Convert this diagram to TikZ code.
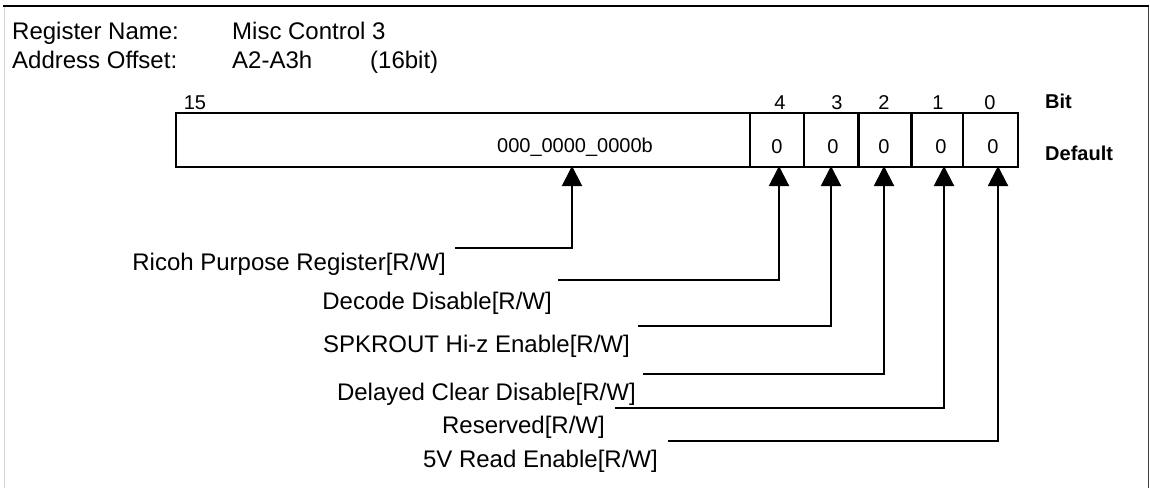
\documentclass[tikz,border=0pt]{standalone}
\usepackage{fontspec}
\setmainfont{Liberation Sans}
\usetikzlibrary{arrows.meta}
\begin{document}
\begin{tikzpicture}[x=1pt,y=-1pt,
  txt/.style={inner sep=0pt, anchor=base west, font=\fontsize{24}{28}\selectfont},
  lbl/.style={inner sep=0pt, anchor=base east, font=\fontsize{24}{28}\selectfont},
  small/.style={inner sep=0pt, anchor=base, font=\fontsize{20}{24}\selectfont},
  boldlbl/.style={inner sep=0pt, anchor=base west, font=\fontsize{20}{24}\selectfont\bfseries},
  regbox/.style={draw, line width=2pt, inner sep=0pt, anchor=north west, minimum height=54pt},
  conn/.style={line width=2pt, -{Triangle[length=20pt,width=20pt]}}
]
\useasboundingbox (0,0) rectangle (1150,488);
% frame
\draw[line width=2.5pt] (3,6) -- (1149,6);
\draw[gray!35, line width=1pt] (4,7) -- (4,488);
\draw[black!75, line width=1.5pt] (1148.5,7) -- (1148.5,488);
% title
\node[txt] (rn) at (12,39) {Register Name:};
\node[txt] (rv) at (232,39) {Misc Control 3};
\node[txt] (an) at (12,68) {Address Offset:};
\node[txt] (av) at (232,68) {A2-A3h};
\node[txt] (aw) at (370,68) {(16bit)};
% register boxes
\node[regbox, minimum width=574pt] (b15) at (175,112) {};
\node[regbox, minimum width=54pt] (c4) at (749,112) {};
\node[regbox, minimum width=54pt] (c3) at (803,112) {};
\node[regbox, minimum width=54pt] (c2) at (857,112) {};
\node[regbox, minimum width=51pt] (c1) at (911,112) {};
\node[regbox, minimum width=55pt] (c0) at (962,112) {};
\draw[line width=1.3pt] ([xshift=2.5pt]c2.north west) -- ([xshift=2.5pt]c2.south west);
\draw[line width=1.3pt] ([xshift=-2.5pt]c2.north east) -- ([xshift=-2.5pt]c2.south east);
% bit numbers
\node[small] (n15) at (195,109) {15};
\node[small] (n4) at (780,109) {4};
\node[small] (n3) at (837,109) {3};
\node[small] (n2) at (884,109) {2};
\node[small] (n1) at (938,109) {1};
\node[small] (n0) at (990,109) {0};
\node[boldlbl] (bit) at (1045,108) {Bit};
\node[boldlbl] (def) at (1045,160) {Default};
% values
\node[small] (v15) at (575,152) {000\_0000\_0000b};
\node[small] (v4) at (777,153) {0};
\node[small] (v3) at (833,153) {0};
\node[small] (v2) at (884,153) {0};
\node[small] (v1) at (941,153) {0};
\node[small] (v0) at (993,153) {0};
% connectors
\coordinate (t15) at (572,166); \coordinate (s15) at (455,248);
\coordinate (t4) at (779,166);  \coordinate (s4) at (558,280);
\coordinate (t3) at (831,166);  \coordinate (s3) at (638,326);
\coordinate (t2) at (884,166);  \coordinate (s2) at (643,374);
\coordinate (t1) at (944,166);  \coordinate (s1) at (615,408);
\coordinate (t0) at (998,166);  \coordinate (s0) at (668,441);
\draw[conn] (s15) -| (t15);
\draw[conn] (s4) -| (t4);
\draw[conn] (s3) -| (t3);
\draw[conn] (s2) -| (t2);
\draw[conn] (s1) -| (t1);
\draw[conn] (s0) -| (t0);
% labels
\node[lbl] (l15) at (446,270) {Ricoh Purpose Register[R/W]};
\node[lbl] (l4) at (552,309) {Decode Disable[R/W]};
\node[lbl] (l3) at (630,352) {SPKROUT Hi-z Enable[R/W]};
\node[lbl] (l2) at (636,400) {Delayed Clear Disable[R/W]};
\node[lbl] (l1) at (605,433) {Reserved[R/W]};
\node[lbl] (l0) at (658,467) {5V Read Enable[R/W]};
\end{tikzpicture}
\end{document}
